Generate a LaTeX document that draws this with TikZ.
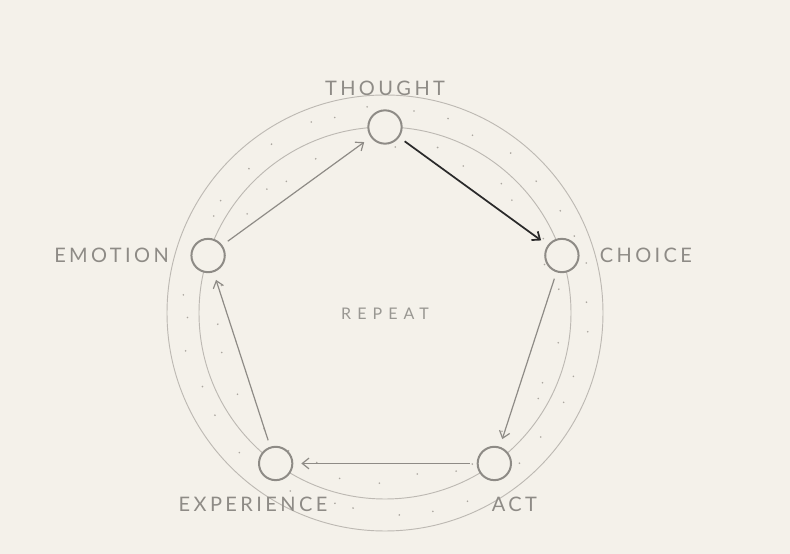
\documentclass[tikz,border=0pt]{standalone}
\usepackage{fontspec}
\setmainfont{Lato}
\newfontfamily\capsfont[LetterSpace=17]{Lato}
\newfontfamily\widefont[LetterSpace=38]{Lato}
\usetikzlibrary{arrows.meta}
\definecolor{paper}{HTML}{F4F1EA}
\definecolor{ring}{HTML}{BDB9B3}
\definecolor{stone}{HTML}{8E8B86}
\definecolor{ink}{HTML}{2A2A2A}
\definecolor{speck}{HTML}{ABA7A0}
\tikzset{
  stage/.style={circle, draw=stone, line width=1.5pt, fill=paper, minimum size=25pt, inner sep=0pt},
  lbl/.style={font=\capsfont\fontsize{15}{15}\selectfont, text=stone, inner sep=0pt},
  flow/.style={-{Straight Barb[length=5pt,width=8pt]}, stone, line width=0.9pt, shorten <=5pt, shorten >=6pt},
}

\begin{document}
\begin{tikzpicture}[x=0.75pt,y=0.75pt]
\fill[paper] (0,0) rectangle (790,554);
\begin{scope}[shift={(385,241)}]
%rings
\draw[ring, line width=0.7pt] (0,0) circle[radius=218];
\draw[ring, line width=0.7pt] (0,0) circle[radius=186];
%specks
\pgfmathsetseed{11}
\foreach \i in {1,...,36} {\pgfmathsetmacro\a{\i*10+rnd*6}\pgfmathsetmacro\r{196+rnd*12}\fill[speck] (\a:\r) circle[radius=0.9];}
\foreach \i in {1,...,30} {\pgfmathsetmacro\a{\i*12+rnd*8}\pgfmathsetmacro\r{164+rnd*12}\fill[speck] (\a:\r) circle[radius=0.9];}

\node[stage, label={[lbl, label distance=10pt]above:THOUGHT}] (thought) at (90:186) {};
\node[stage, label={[lbl, label distance=15pt]right:CHOICE}] (choice) at (18:186) {};
\node[stage, label={[lbl, label distance=12pt, xshift=15pt]below:ACT}] (act) at (-54:186) {};
\node[stage, label={[lbl, label distance=12pt, xshift=-17pt]below:EXPERIENCE}] (experience) at (-126:186) {};
\node[stage, label={[lbl, label distance=16pt]left:EMOTION}] (emotion) at (162:186) {};
\node[font=\widefont\fontsize{12}{12}\selectfont, text=stone!90] (repeat) at (0,-1) {REPEAT};

\draw[flow, ink, line width=1.3pt] (thought) -- (choice);
\draw[flow] (choice) -- (act);
\draw[flow] (act) -- (experience);
\draw[flow] (experience) -- (emotion);
\draw[flow] (emotion) -- (thought);
\end{scope}
\end{tikzpicture}
\end{document}
